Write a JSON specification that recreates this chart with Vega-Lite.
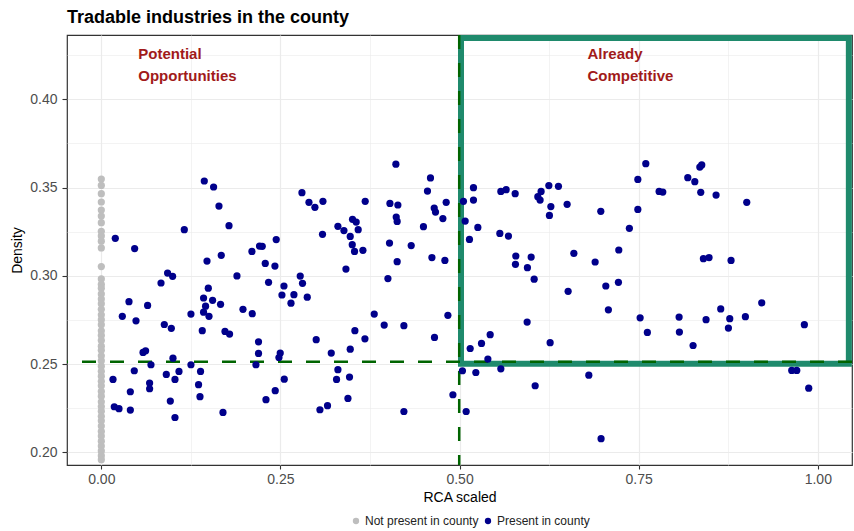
{
  "$schema": "https://vega.github.io/schema/vega-lite/v6.json",
  "width": 785,
  "height": 430,
  "autosize": {"type": "none"},
  "padding": {"left": 67, "top": 35, "right": 2, "bottom": 66},
  "background": "white",
  "config": {
    "font": "Liberation Sans",
    "view": {"stroke": "#333333", "strokeWidth": 1.2}
  },
  "title": {
    "text": "Tradable industries in the county",
    "anchor": "start",
    "frame": "group",
    "font": "Liberation Sans",
    "fontSize": 18,
    "fontWeight": "bold",
    "color": "#000000",
    "baseline": "alphabetic",
    "offset": 12.5,
    "dy": 19.5
  },
  "datasets": {
    "box": [{"x": 0.502, "x2": 1.0433, "y": 0.2502, "y2": 0.4347}],
    "hline": [{"y": 0.2513}],
    "vline": [{"x": 0.4995}],
    "notes": [
      {"x": 0.0516, "y": 0.4257, "label": "Potential\nOpportunities"},
      {"x": 0.6785, "y": 0.4257, "label": "Already\nCompetitive"}
    ],
    "absent": [
      {"x": 0, "y": 0.3548, "g": "Not present in county"},
      {"x": 0, "y": 0.3512, "g": "Not present in county"},
      {"x": 0, "y": 0.3465, "g": "Not present in county"},
      {"x": 0, "y": 0.3418, "g": "Not present in county"},
      {"x": 0, "y": 0.3372, "g": "Not present in county"},
      {"x": 0, "y": 0.3338, "g": "Not present in county"},
      {"x": 0, "y": 0.3301, "g": "Not present in county"},
      {"x": 0, "y": 0.3252, "g": "Not present in county"},
      {"x": 0, "y": 0.3226, "g": "Not present in county"},
      {"x": 0, "y": 0.3196, "g": "Not present in county"},
      {"x": 0, "y": 0.3158, "g": "Not present in county"},
      {"x": 0, "y": 0.3052, "g": "Not present in county"},
      {"x": 0, "y": 0.2982, "g": "Not present in county"},
      {"x": 0, "y": 0.2951, "g": "Not present in county"},
      {"x": 0, "y": 0.2930, "g": "Not present in county"},
      {"x": 0, "y": 0.2897, "g": "Not present in county"},
      {"x": 0, "y": 0.2868, "g": "Not present in county"},
      {"x": 0, "y": 0.2842, "g": "Not present in county"},
      {"x": 0, "y": 0.2810, "g": "Not present in county"},
      {"x": 0, "y": 0.2779, "g": "Not present in county"},
      {"x": 0, "y": 0.2751, "g": "Not present in county"},
      {"x": 0, "y": 0.2723, "g": "Not present in county"},
      {"x": 0, "y": 0.2688, "g": "Not present in county"},
      {"x": 0, "y": 0.2662, "g": "Not present in county"},
      {"x": 0, "y": 0.2634, "g": "Not present in county"},
      {"x": 0, "y": 0.2601, "g": "Not present in county"},
      {"x": 0, "y": 0.2578, "g": "Not present in county"},
      {"x": 0, "y": 0.2547, "g": "Not present in county"},
      {"x": 0, "y": 0.2519, "g": "Not present in county"},
      {"x": 0, "y": 0.2488, "g": "Not present in county"},
      {"x": 0, "y": 0.2459, "g": "Not present in county"},
      {"x": 0, "y": 0.2431, "g": "Not present in county"},
      {"x": 0, "y": 0.2402, "g": "Not present in county"},
      {"x": 0, "y": 0.2377, "g": "Not present in county"},
      {"x": 0, "y": 0.2345, "g": "Not present in county"},
      {"x": 0, "y": 0.2318, "g": "Not present in county"},
      {"x": 0, "y": 0.2286, "g": "Not present in county"},
      {"x": 0, "y": 0.2259, "g": "Not present in county"},
      {"x": 0, "y": 0.2233, "g": "Not present in county"},
      {"x": 0, "y": 0.2204, "g": "Not present in county"},
      {"x": 0, "y": 0.2178, "g": "Not present in county"},
      {"x": 0, "y": 0.2149, "g": "Not present in county"},
      {"x": 0, "y": 0.2118, "g": "Not present in county"},
      {"x": 0, "y": 0.2092, "g": "Not present in county"},
      {"x": 0, "y": 0.2063, "g": "Not present in county"},
      {"x": 0, "y": 0.2035, "g": "Not present in county"},
      {"x": 0, "y": 0.2008, "g": "Not present in county"},
      {"x": 0, "y": 0.1981, "g": "Not present in county"},
      {"x": 0, "y": 0.1958, "g": "Not present in county"}
    ],
    "present": [
      {"x": 0.1437, "y": 0.3537, "g": "Present in county"},
      {"x": 0.1567, "y": 0.3503, "g": "Present in county"},
      {"x": 0.1642, "y": 0.3395, "g": "Present in county"},
      {"x": 0.1782, "y": 0.3284, "g": "Present in county"},
      {"x": 0.1158, "y": 0.3261, "g": "Present in county"},
      {"x": 0.0195, "y": 0.3212, "g": "Present in county"},
      {"x": 0.0465, "y": 0.3154, "g": "Present in county"},
      {"x": 0.2102, "y": 0.3138, "g": "Present in county"},
      {"x": 0.2208, "y": 0.3168, "g": "Present in county"},
      {"x": 0.1674, "y": 0.3116, "g": "Present in county"},
      {"x": 0.1475, "y": 0.3083, "g": "Present in county"},
      {"x": 0.0925, "y": 0.3015, "g": "Present in county"},
      {"x": 0.0995, "y": 0.2997, "g": "Present in county"},
      {"x": 0.1893, "y": 0.2999, "g": "Present in county"},
      {"x": 0.0833, "y": 0.2959, "g": "Present in county"},
      {"x": 0.1493, "y": 0.2930, "g": "Present in county"},
      {"x": 0.1427, "y": 0.2874, "g": "Present in county"},
      {"x": 0.1553, "y": 0.2861, "g": "Present in county"},
      {"x": 0.1455, "y": 0.2828, "g": "Present in county"},
      {"x": 0.1664, "y": 0.2838, "g": "Present in county"},
      {"x": 0.0386, "y": 0.2853, "g": "Present in county"},
      {"x": 0.0646, "y": 0.2832, "g": "Present in county"},
      {"x": 0.1977, "y": 0.2810, "g": "Present in county"},
      {"x": 0.0293, "y": 0.2770, "g": "Present in county"},
      {"x": 0.0484, "y": 0.2745, "g": "Present in county"},
      {"x": 0.1251, "y": 0.2783, "g": "Present in county"},
      {"x": 0.1427, "y": 0.2794, "g": "Present in county"},
      {"x": 0.1503, "y": 0.2770, "g": "Present in county"},
      {"x": 0.2107, "y": 0.2785, "g": "Present in county"},
      {"x": 0.0879, "y": 0.2724, "g": "Present in county"},
      {"x": 0.0977, "y": 0.2702, "g": "Present in county"},
      {"x": 0.1409, "y": 0.2689, "g": "Present in county"},
      {"x": 0.1726, "y": 0.2685, "g": "Present in county"},
      {"x": 0.1790, "y": 0.2670, "g": "Present in county"},
      {"x": 0.2194, "y": 0.2626, "g": "Present in county"},
      {"x": 0.2194, "y": 0.2560, "g": "Present in county"},
      {"x": 0.0582, "y": 0.2566, "g": "Present in county"},
      {"x": 0.0618, "y": 0.2575, "g": "Present in county"},
      {"x": 0.1000, "y": 0.2533, "g": "Present in county"},
      {"x": 0.0460, "y": 0.2462, "g": "Present in county"},
      {"x": 0.0693, "y": 0.2496, "g": "Present in county"},
      {"x": 0.1251, "y": 0.2496, "g": "Present in county"},
      {"x": 0.2158, "y": 0.2496, "g": "Present in county"},
      {"x": 0.0163, "y": 0.2413, "g": "Present in county"},
      {"x": 0.0907, "y": 0.2441, "g": "Present in county"},
      {"x": 0.1084, "y": 0.2458, "g": "Present in county"},
      {"x": 0.1028, "y": 0.2413, "g": "Present in county"},
      {"x": 0.1385, "y": 0.2458, "g": "Present in county"},
      {"x": 0.0674, "y": 0.2392, "g": "Present in county"},
      {"x": 0.0674, "y": 0.2360, "g": "Present in county"},
      {"x": 0.1357, "y": 0.2383, "g": "Present in county"},
      {"x": 0.0405, "y": 0.2343, "g": "Present in county"},
      {"x": 0.1377, "y": 0.2315, "g": "Present in county"},
      {"x": 0.0963, "y": 0.2290, "g": "Present in county"},
      {"x": 0.0181, "y": 0.2258, "g": "Present in county"},
      {"x": 0.0247, "y": 0.2247, "g": "Present in county"},
      {"x": 0.0405, "y": 0.2239, "g": "Present in county"},
      {"x": 0.1698, "y": 0.2226, "g": "Present in county"},
      {"x": 0.1028, "y": 0.2197, "g": "Present in county"},
      {"x": 0.4111, "y": 0.3632, "g": "Present in county"},
      {"x": 0.4594, "y": 0.3554, "g": "Present in county"},
      {"x": 0.4552, "y": 0.3480, "g": "Present in county"},
      {"x": 0.2800, "y": 0.3471, "g": "Present in county"},
      {"x": 0.2898, "y": 0.3416, "g": "Present in county"},
      {"x": 0.2981, "y": 0.3388, "g": "Present in county"},
      {"x": 0.3093, "y": 0.3422, "g": "Present in county"},
      {"x": 0.3683, "y": 0.3422, "g": "Present in county"},
      {"x": 0.4028, "y": 0.3410, "g": "Present in county"},
      {"x": 0.4139, "y": 0.3401, "g": "Present in county"},
      {"x": 0.4646, "y": 0.3384, "g": "Present in county"},
      {"x": 0.4664, "y": 0.3361, "g": "Present in county"},
      {"x": 0.4813, "y": 0.3416, "g": "Present in county"},
      {"x": 0.4767, "y": 0.3324, "g": "Present in county"},
      {"x": 0.4116, "y": 0.3333, "g": "Present in county"},
      {"x": 0.4129, "y": 0.3308, "g": "Present in county"},
      {"x": 0.3506, "y": 0.3320, "g": "Present in county"},
      {"x": 0.3557, "y": 0.3304, "g": "Present in county"},
      {"x": 0.3302, "y": 0.3280, "g": "Present in county"},
      {"x": 0.3386, "y": 0.3256, "g": "Present in county"},
      {"x": 0.3585, "y": 0.3261, "g": "Present in county"},
      {"x": 0.4496, "y": 0.3278, "g": "Present in county"},
      {"x": 0.3087, "y": 0.3235, "g": "Present in county"},
      {"x": 0.3474, "y": 0.3223, "g": "Present in county"},
      {"x": 0.2441, "y": 0.3205, "g": "Present in county"},
      {"x": 0.2246, "y": 0.3167, "g": "Present in county"},
      {"x": 0.3502, "y": 0.3176, "g": "Present in county"},
      {"x": 0.3534, "y": 0.3138, "g": "Present in county"},
      {"x": 0.3651, "y": 0.3144, "g": "Present in county"},
      {"x": 0.4022, "y": 0.3185, "g": "Present in county"},
      {"x": 0.4325, "y": 0.3171, "g": "Present in county"},
      {"x": 0.2288, "y": 0.3070, "g": "Present in county"},
      {"x": 0.2423, "y": 0.3055, "g": "Present in county"},
      {"x": 0.4129, "y": 0.3080, "g": "Present in county"},
      {"x": 0.4614, "y": 0.3103, "g": "Present in county"},
      {"x": 0.4795, "y": 0.3087, "g": "Present in county"},
      {"x": 0.3414, "y": 0.3038, "g": "Present in county"},
      {"x": 0.2776, "y": 0.2998, "g": "Present in county"},
      {"x": 0.2808, "y": 0.2957, "g": "Present in county"},
      {"x": 0.2334, "y": 0.2963, "g": "Present in county"},
      {"x": 0.2549, "y": 0.2942, "g": "Present in county"},
      {"x": 0.4000, "y": 0.2984, "g": "Present in county"},
      {"x": 0.2521, "y": 0.2891, "g": "Present in county"},
      {"x": 0.2688, "y": 0.2893, "g": "Present in county"},
      {"x": 0.2874, "y": 0.2879, "g": "Present in county"},
      {"x": 0.2647, "y": 0.2845, "g": "Present in county"},
      {"x": 0.3809, "y": 0.2783, "g": "Present in county"},
      {"x": 0.3948, "y": 0.2721, "g": "Present in county"},
      {"x": 0.4223, "y": 0.2717, "g": "Present in county"},
      {"x": 0.4837, "y": 0.2776, "g": "Present in county"},
      {"x": 0.3539, "y": 0.2689, "g": "Present in county"},
      {"x": 0.3679, "y": 0.2643, "g": "Present in county"},
      {"x": 0.4650, "y": 0.2651, "g": "Present in county"},
      {"x": 0.2999, "y": 0.2638, "g": "Present in county"},
      {"x": 0.2497, "y": 0.2562, "g": "Present in county"},
      {"x": 0.2479, "y": 0.2537, "g": "Present in county"},
      {"x": 0.3209, "y": 0.2562, "g": "Present in county"},
      {"x": 0.3474, "y": 0.2584, "g": "Present in county"},
      {"x": 0.3302, "y": 0.2468, "g": "Present in county"},
      {"x": 0.3283, "y": 0.2413, "g": "Present in county"},
      {"x": 0.3464, "y": 0.2426, "g": "Present in county"},
      {"x": 0.2553, "y": 0.2414, "g": "Present in county"},
      {"x": 0.2427, "y": 0.2349, "g": "Present in county"},
      {"x": 0.2298, "y": 0.2298, "g": "Present in county"},
      {"x": 0.3442, "y": 0.2305, "g": "Present in county"},
      {"x": 0.3157, "y": 0.2264, "g": "Present in county"},
      {"x": 0.3051, "y": 0.2241, "g": "Present in county"},
      {"x": 0.4223, "y": 0.2231, "g": "Present in county"},
      {"x": 0.4907, "y": 0.2326, "g": "Present in county"},
      {"x": 0.5092, "y": 0.2231, "g": "Present in county"},
      {"x": 0.5040, "y": 0.2462, "g": "Present in county"},
      {"x": 0.5148, "y": 0.2588, "g": "Present in county"},
      {"x": 0.7599, "y": 0.3635, "g": "Present in county"},
      {"x": 0.7488, "y": 0.3546, "g": "Present in county"},
      {"x": 0.7488, "y": 0.3376, "g": "Present in county"},
      {"x": 0.7370, "y": 0.3269, "g": "Present in county"},
      {"x": 0.5194, "y": 0.3499, "g": "Present in county"},
      {"x": 0.5194, "y": 0.3429, "g": "Present in county"},
      {"x": 0.5054, "y": 0.3422, "g": "Present in county"},
      {"x": 0.5078, "y": 0.3310, "g": "Present in county"},
      {"x": 0.5255, "y": 0.3274, "g": "Present in county"},
      {"x": 0.5138, "y": 0.3206, "g": "Present in county"},
      {"x": 0.5576, "y": 0.3478, "g": "Present in county"},
      {"x": 0.5650, "y": 0.3488, "g": "Present in county"},
      {"x": 0.5776, "y": 0.3465, "g": "Present in county"},
      {"x": 0.6246, "y": 0.3511, "g": "Present in county"},
      {"x": 0.6380, "y": 0.3507, "g": "Present in county"},
      {"x": 0.6138, "y": 0.3478, "g": "Present in county"},
      {"x": 0.6092, "y": 0.3448, "g": "Present in county"},
      {"x": 0.6124, "y": 0.3429, "g": "Present in county"},
      {"x": 0.6274, "y": 0.3392, "g": "Present in county"},
      {"x": 0.6254, "y": 0.3342, "g": "Present in county"},
      {"x": 0.6501, "y": 0.3405, "g": "Present in county"},
      {"x": 0.6971, "y": 0.3365, "g": "Present in county"},
      {"x": 0.5562, "y": 0.3240, "g": "Present in county"},
      {"x": 0.5682, "y": 0.3225, "g": "Present in county"},
      {"x": 0.5785, "y": 0.3112, "g": "Present in county"},
      {"x": 0.5780, "y": 0.3065, "g": "Present in county"},
      {"x": 0.5999, "y": 0.3106, "g": "Present in county"},
      {"x": 0.5947, "y": 0.3046, "g": "Present in county"},
      {"x": 0.6041, "y": 0.2981, "g": "Present in county"},
      {"x": 0.6595, "y": 0.3127, "g": "Present in county"},
      {"x": 0.6892, "y": 0.3078, "g": "Present in county"},
      {"x": 0.7222, "y": 0.3146, "g": "Present in county"},
      {"x": 0.7217, "y": 0.2963, "g": "Present in county"},
      {"x": 0.7041, "y": 0.2942, "g": "Present in county"},
      {"x": 0.6515, "y": 0.2912, "g": "Present in county"},
      {"x": 0.7077, "y": 0.2807, "g": "Present in county"},
      {"x": 0.7520, "y": 0.2762, "g": "Present in county"},
      {"x": 0.7621, "y": 0.2679, "g": "Present in county"},
      {"x": 0.5943, "y": 0.2738, "g": "Present in county"},
      {"x": 0.6264, "y": 0.2621, "g": "Present in county"},
      {"x": 0.5427, "y": 0.2666, "g": "Present in county"},
      {"x": 0.5306, "y": 0.2617, "g": "Present in county"},
      {"x": 0.5395, "y": 0.2528, "g": "Present in county"},
      {"x": 0.5227, "y": 0.2452, "g": "Present in county"},
      {"x": 0.5576, "y": 0.2473, "g": "Present in county"},
      {"x": 0.6804, "y": 0.2437, "g": "Present in county"},
      {"x": 0.6055, "y": 0.2377, "g": "Present in county"},
      {"x": 0.6975, "y": 0.2077, "g": "Present in county"},
      {"x": 0.8380, "y": 0.3628, "g": "Present in county"},
      {"x": 0.8353, "y": 0.3616, "g": "Present in county"},
      {"x": 0.8185, "y": 0.3556, "g": "Present in county"},
      {"x": 0.8283, "y": 0.3533, "g": "Present in county"},
      {"x": 0.7785, "y": 0.3478, "g": "Present in county"},
      {"x": 0.7836, "y": 0.3474, "g": "Present in county"},
      {"x": 0.8366, "y": 0.3473, "g": "Present in county"},
      {"x": 0.8580, "y": 0.3457, "g": "Present in county"},
      {"x": 0.9008, "y": 0.3416, "g": "Present in county"},
      {"x": 0.8403, "y": 0.3097, "g": "Present in county"},
      {"x": 0.8482, "y": 0.3103, "g": "Present in county"},
      {"x": 0.8789, "y": 0.3087, "g": "Present in county"},
      {"x": 0.9217, "y": 0.2847, "g": "Present in county"},
      {"x": 0.8645, "y": 0.2812, "g": "Present in county"},
      {"x": 0.8064, "y": 0.2766, "g": "Present in county"},
      {"x": 0.8068, "y": 0.2681, "g": "Present in county"},
      {"x": 0.8440, "y": 0.2751, "g": "Present in county"},
      {"x": 0.8771, "y": 0.2757, "g": "Present in county"},
      {"x": 0.8752, "y": 0.2704, "g": "Present in county"},
      {"x": 0.8989, "y": 0.2768, "g": "Present in county"},
      {"x": 0.8259, "y": 0.2605, "g": "Present in county"},
      {"x": 0.9812, "y": 0.2723, "g": "Present in county"},
      {"x": 0.9636, "y": 0.2464, "g": "Present in county"},
      {"x": 0.9706, "y": 0.2464, "g": "Present in county"},
      {"x": 0.9873, "y": 0.2363, "g": "Present in county"}
    ]
  },
  "layer": [
    {
      "data": {"name": "box"},
      "mark": {"type": "rect", "fill": null, "fillOpacity": 0, "stroke": "#1f8a6c", "strokeWidth": 6},
      "encoding": {
        "x": {
          "field": "x", "type": "quantitative",
          "scale": {"domain": [-0.0479, 1.0477], "nice": false, "zero": false},
          "axis": {
            "title": "RCA scaled",
            "values": [0, 0.125, 0.25, 0.375, 0.5, 0.625, 0.75, 0.875, 1],
            "labelExpr": "indexof([0, 0.25, 0.5, 0.75, 1], datum.value) >= 0 ? format(datum.value, '.2f') : ''",
            "domain": false,
            "grid": true,
            "gridColor": "#ebebeb",
            "gridWidth": {"condition": {"test": "indexof([0, 0.25, 0.5, 0.75, 1], datum.value) < 0", "value": 0.6}, "value": 1.2},
            "tickColor": "#333333",
            "tickOpacity": {"condition": {"test": "indexof([0, 0.25, 0.5, 0.75, 1], datum.value) < 0", "value": 0}, "value": 1},
            "tickSize": 4,
            "tickWidth": 1.1,
            "labelPadding": 3,
            "labelFont": "Liberation Sans",
            "labelFontSize": 14,
            "labelColor": "#4d4d4d",
            "titleFont": "Liberation Sans",
            "titleFontSize": 14,
            "titleFontWeight": "normal",
            "titleColor": "#000000",
            "titlePadding": 4
          }
        },
        "x2": {"field": "x2"},
        "y": {
          "field": "y", "type": "quantitative",
          "scale": {"domain": [0.1928, 0.4364], "nice": false, "zero": false},
          "axis": {
            "title": "Density",
            "values": [0.2, 0.225, 0.25, 0.275, 0.3, 0.325, 0.35, 0.375, 0.4, 0.425],
            "labelExpr": "indexof([0.2, 0.25, 0.3, 0.35, 0.4], datum.value) >= 0 ? format(datum.value, '.2f') : ''",
            "domain": false,
            "grid": true,
            "gridColor": "#ebebeb",
            "gridWidth": {"condition": {"test": "indexof([0.2, 0.25, 0.3, 0.35, 0.4], datum.value) < 0", "value": 0.6}, "value": 1.2},
            "tickColor": "#333333",
            "tickOpacity": {"condition": {"test": "indexof([0.2, 0.25, 0.3, 0.35, 0.4], datum.value) < 0", "value": 0}, "value": 1},
            "tickSize": 5,
            "tickWidth": 1.1,
            "labelPadding": 5,
            "labelFont": "Liberation Sans",
            "labelFontSize": 14,
            "labelColor": "#4d4d4d",
            "titleFont": "Liberation Sans",
            "titleFontSize": 14,
            "titleFontWeight": "normal",
            "titleColor": "#000000",
            "titlePadding": 5
          }
        },
        "y2": {"field": "y2"}
      }
    },
    {
      "data": {"name": "absent"},
      "mark": {"type": "point", "filled": true, "opacity": 1, "size": 52, "shape": "circle"},
      "encoding": {
        "x": {"field": "x", "type": "quantitative"},
        "y": {"field": "y", "type": "quantitative"},
        "color": {
          "field": "g", "type": "nominal",
          "scale": {"domain": ["Not present in county", "Present in county"], "range": ["#bebebe", "#00008b"]},
          "legend": {
            "title": null,
            "orient": "none",
            "direction": "horizontal",
            "legendX": 283,
            "legendY": 480,
            "symbolType": "circle",
            "symbolSize": 40,
            "symbolStrokeWidth": 0,
            "labelFont": "Liberation Sans",
            "labelFontSize": 12,
            "labelColor": "#222222",
            "labelOffset": 3,
            "columnPadding": 3,
            "padding": 0
          }
        }
      }
    },
    {
      "data": {"name": "hline"},
      "mark": {"type": "rule", "color": "#006400", "strokeWidth": 2.5, "strokeDash": [14, 14]},
      "encoding": {"y": {"field": "y", "type": "quantitative"}}
    },
    {
      "data": {"name": "vline"},
      "mark": {"type": "rule", "color": "#006400", "strokeWidth": 2.5, "strokeDash": [14, 14]},
      "encoding": {"x": {"field": "x", "type": "quantitative"}}
    },
    {
      "data": {"name": "present"},
      "mark": {"type": "point", "filled": true, "opacity": 1, "size": 52, "shape": "circle"},
      "encoding": {
        "x": {"field": "x", "type": "quantitative"},
        "y": {"field": "y", "type": "quantitative"},
        "color": {"field": "g", "type": "nominal"}
      }
    },
    {
      "data": {"name": "notes"},
      "mark": {"type": "text", "align": "left", "baseline": "middle", "lineBreak": "\n", "lineHeight": 22, "font": "Liberation Sans", "fontSize": 15, "fontWeight": "bold", "color": "#a11a1a"},
      "encoding": {
        "x": {"field": "x", "type": "quantitative"},
        "y": {"field": "y", "type": "quantitative"},
        "text": {"field": "label"}
      }
    }
  ]
}
